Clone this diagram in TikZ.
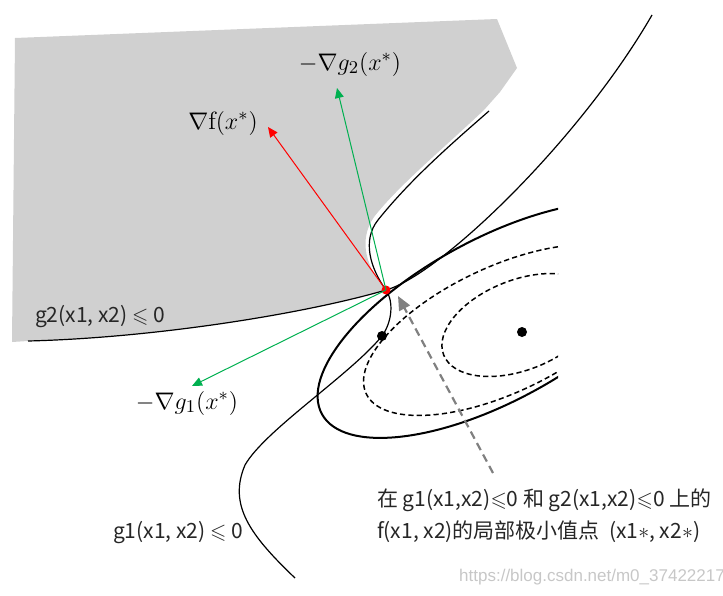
\documentclass[tikz,border=0pt]{standalone}
\usepackage{amsmath, amssymb}
\usepackage{fontspec}
\newfontfamily\cjk{Noto Sans CJK SC}
\newfontfamily\urlfont{Liberation Sans}
\usetikzlibrary{arrows.meta}

\definecolor{region}{RGB}{208,208,208}
\definecolor{verde}{RGB}{0,176,80}
\definecolor{gris}{RGB}{128,128,128}

\begin{document}
\begin{tikzpicture}[x=0.5pt, y=-0.5pt, >=Stealth,
          curva/.style={line width=0.6pt},
          nivel/.style={line width=0.75pt, dash pattern=on 2.6pt off 1.6pt},
          grad/.style={line width=0.5pt, -{Triangle[length=5pt, width=4.4pt]}},
          punto/.style={circle, fill, inner sep=0pt, minimum size=5pt},
          etiq/.style={font=\cjk\fontsize{10.5}{16}\selectfont, text=black!85},
          vec/.style={font=\fontsize{12.5}{15}\selectfont}
        ]
        \useasboundingbox (0,0) rectangle (723,595);

        % region factible (gris)
        \fill[region] (15,38) -- (497,19) -- (517,68) -- (500,92) -- (484,110)
          .. controls (446,146) and (398,186) .. (374,217)
          .. controls (358,240) and (366,268) .. (386,290)
          .. controls (300,315) and (150,338) .. (28,341) -- (12,342) -- cycle;

        % curvas de nivel de f
        \begin{scope}
          \clip (0,0) rectangle (558,595);
          \draw[line width=1pt, shift={(495,320)}, rotate=28.5] (0,0) ellipse (197 and 81);
          \draw[nivel, shift={(502,330)}, rotate=25.1] (0,0) ellipse (150 and 63);
          \draw[nivel, shift={(520,325)}, rotate=21.4] (0,0) ellipse (82 and 45);
        \end{scope}

        % g1 = 0 y g2 = 0
        \draw[curva] (295,578) .. controls (250,535) and (228,505) .. (245,465)
          .. controls (265,430) and (350,375) .. (382,336)
          .. controls (392,322) and (394,302) .. (386,290)
          .. controls (370,268) and (362,240) .. (378,220)
          .. controls (410,180) and (450,145) .. (489,111);
        \draw[curva] (28,341) .. controls (150,338) and (300,315) .. (386,290)
          .. controls (440,275) and (580,140) .. (652,15);

        % puntos
        \node[punto] (m1) at (382,336) {};
        \node[punto] (m0) at (522,332) {};
        \node[punto, red, minimum size=4.5pt] (xstar) at (386,290) {};

        % gradientes
        \coordinate (pf)  at (268,127);
        \coordinate (pg2) at (337,88);
        \coordinate (pg1) at (192,386);
        \draw[grad, red]   (xstar.center) -- (pf);
        \draw[grad, verde] (xstar.center) -- (pg2);
        \draw[grad, verde] (xstar.center) -- (pg1);

        % flecha a x*
        \coordinate (pie) at (493,473);
        \coordinate (cab) at (398,296);
        \draw[gris, line width=1.1pt, dash pattern=on 4pt off 2.5pt,
              -{Triangle[length=7pt, width=6pt]}] (pie) -- (cab);

        % etiquetas
        \node[vec] (lf)  at (223,123) {$\nabla\mathrm{f}(x^*)$};
        \node[vec] (lg2) at (350,64)  {$-\nabla g_2(x^*)$};
        \node[vec] (lg1) at (187,403) {$-\nabla g_1(x^*)$};
        \node[etiq] (lr2) at (100,317) {g2(x1, x2) $\leqslant$ 0};
        \node[etiq] (lr1) at (178,533) {g1(x1, x2) $\leqslant$ 0};
        \node[etiq, align=left, anchor=west] (nota) at (370,516)
          {在 g1(x1,x2)$\leqslant$0 和 g2(x1,x2)$\leqslant$0 上的\\
           f(x1, x2)的局部极小值点 \ (x1$\ast$, x2$\ast$)};
        \node[font=\urlfont\fontsize{8.5}{10}\selectfont, text=black!22] (url)
          at (592,577) {https://blog.csdn.net/m0\_37422217};
      \end{tikzpicture}
\end{document}
